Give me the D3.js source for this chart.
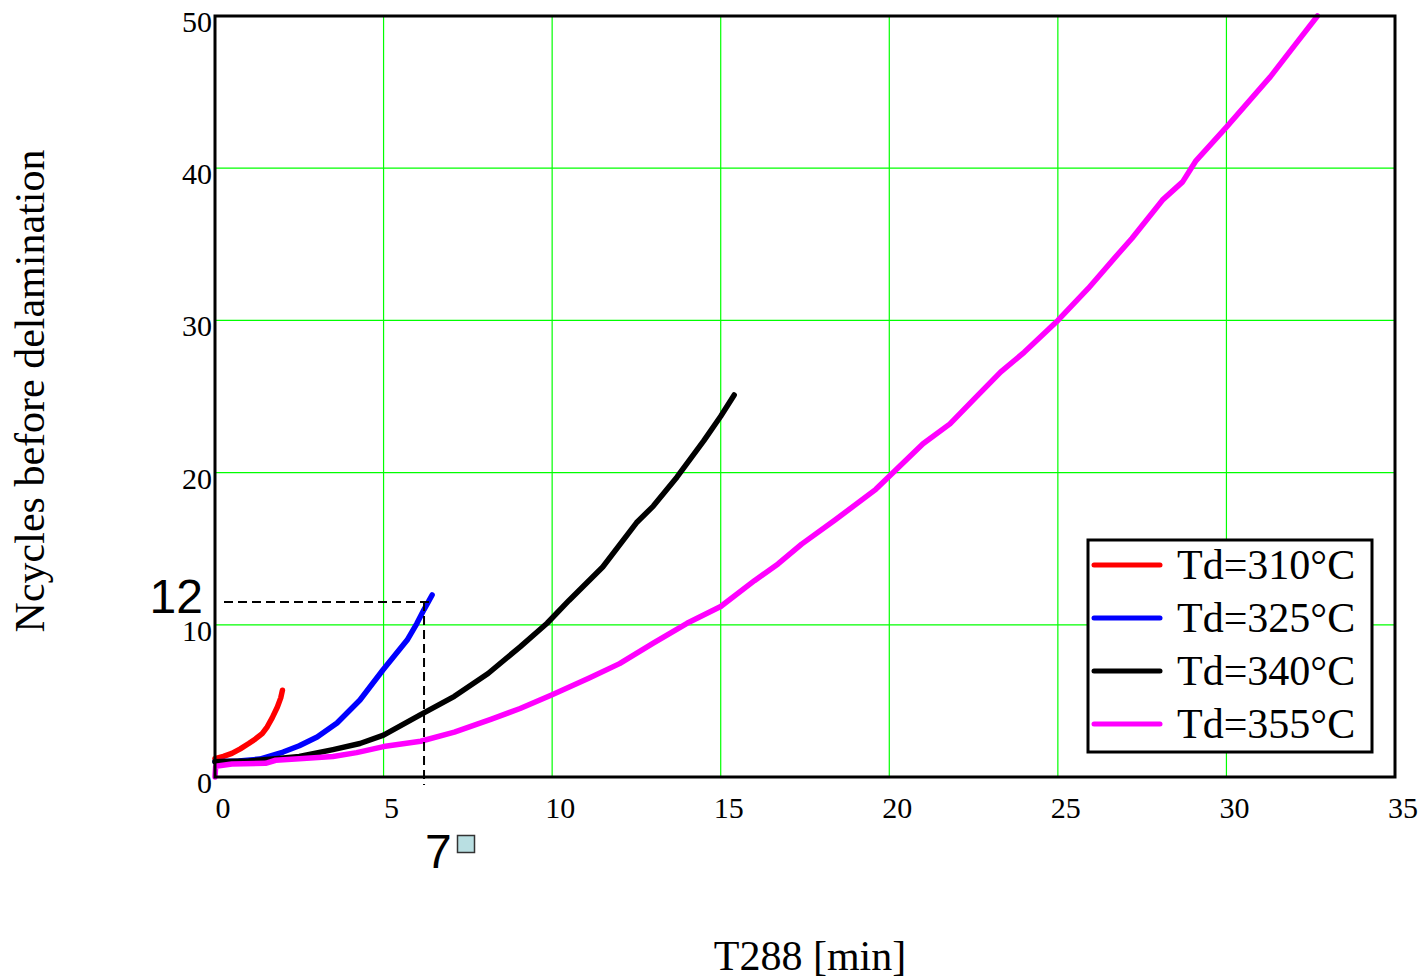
<!DOCTYPE html>
<html>
<head>
<meta charset="utf-8">
<script src="https://cdn.jsdelivr.net/npm/d3@7"></script>
<style>
  html, body { margin: 0; padding: 0; background: #fff; }
  svg { display: block; }
</style>
</head>
<body>
<svg id="chart" width="1420" height="980"></svg>
<script>
// ---- Data ----
const xTicks = [0, 5, 10, 15, 20, 25, 30, 35];
const yTicks = [0, 10, 20, 30, 40, 50];
const xGrid = [5, 10, 15, 20, 25, 30];
const yGrid = [10, 20, 30, 40];

const seriesNames = ["Td=310°C", "Td=325°C", "Td=340°C", "Td=355°C"];
const seriesColors = ["#ff0000", "#0000ff", "#000000", "#ff00ff"];

const td310 = [[0,1.2],[0.25,1.35],[0.5,1.55],[0.75,1.85],[1.0,2.2],[1.2,2.5],[1.4,2.85],[1.55,3.3],[1.7,3.9],[1.85,4.6],[1.95,5.2],[2.0,5.7]];
const td325 = [[0,1.0],[0.7,1.05],[1.33,1.18],[2.02,1.64],[2.5,2.05],[3.03,2.63],[3.62,3.55],[4.3,5.06],[4.98,7.03],[5.7,9.0],[5.99,10.1],[6.2,11.0],[6.44,11.96]];
const td340 = [[0,1.0],[1.0,1.05],[1.8,1.2],[2.5,1.35],[3.5,1.8],[4.3,2.2],[5.0,2.75],[6.1,4.1],[7.1,5.3],[8.1,6.8],[9.05,8.55],[9.85,10.1],[10.5,11.6],[11.5,13.8],[12.5,16.7],[13.0,17.8],[13.7,19.7],[14.5,22.1],[15.0,23.7],[15.4,25.1]];
const td355 = [[0,0],[0.02,0.7],[0.5,0.85],[1.5,0.9],[1.8,1.1],[2.5,1.2],[3.5,1.35],[4.2,1.6],[5.0,2.0],[6.1,2.35],[7.1,2.95],[8.2,3.8],[9.05,4.5],[10.0,5.4],[11.1,6.5],[12.0,7.45],[13.0,8.8],[14.0,10.1],[15.0,11.2],[16.0,12.9],[16.7,14.0],[17.4,15.3],[18.4,16.9],[19.6,18.9],[20.3,20.4],[21.0,21.9],[21.8,23.2],[22.5,24.8],[23.3,26.6],[24.0,27.9],[25.0,30.0],[25.9,32.1],[26.8,34.4],[27.2,35.4],[28.1,37.9],[28.7,39.1],[29.1,40.5],[30.0,42.7],[31.3,46.0],[32.0,48.0],[32.7,50.0]];
const seriesData = [td310, td325, td340, td355];

// Marker (Mathcad trace readout)
const markerX = 6.2;
const markerY = 11.5;
const markerXLabel = "7";
const markerYLabel = "12";

const xTitle = "T288 [min]";
const yTitle = "Ncycles before delamination";

// ---- Layout ----
const svg = d3.select("#chart");
const L = 215, R = 1395, T = 16, B = 777;
const x = d3.scaleLinear().domain([0, 35]).range([L, R]);
const y = d3.scaleLinear().domain([0, 50]).range([B, T]);
const serif = "'Liberation Serif', 'Times New Roman', serif";
const sans = "'Liberation Sans', Arial, sans-serif";

// Grid
svg.append("g").selectAll("line").data(xGrid).join("line")
  .attr("x1", d => x(d)).attr("x2", d => x(d))
  .attr("y1", T).attr("y2", B)
  .attr("stroke", "#00ff00").attr("stroke-width", 1.2);
svg.append("g").selectAll("line").data(yGrid).join("line")
  .attr("x1", L).attr("x2", R)
  .attr("y1", d => y(d)).attr("y2", d => y(d))
  .attr("stroke", "#00ff00").attr("stroke-width", 1.2);

// Tick labels
svg.append("g").selectAll("text").data(xTicks).join("text")
  .attr("x", d => x(d) + 8).attr("y", 818)
  .attr("text-anchor", "middle")
  .attr("font-family", serif).attr("font-size", 30)
  .text(d => d);
svg.append("g").selectAll("text").data(yTicks).join("text")
  .attr("x", 212).attr("y", d => y(d) + 16)
  .attr("text-anchor", "end")
  .attr("font-family", serif).attr("font-size", 30)
  .text(d => d);

// Curves
const line = d3.line().x(d => x(d[0])).y(d => y(d[1]));
const plot = svg.append("g");
seriesData.forEach((s, i) => {
  plot.append("path").datum(s)
    .attr("d", line)
    .attr("fill", "none")
    .attr("stroke", seriesColors[i])
    .attr("stroke-width", 5.5)
    .attr("stroke-linejoin", "round")
    .attr("stroke-linecap", "round");
});

// Marker dashed lines
svg.append("line")
  .attr("x1", x(0) + 9).attr("x2", x(markerX) + 6)
  .attr("y1", y(markerY)).attr("y2", y(markerY))
  .attr("stroke", "#000").attr("stroke-width", 2).attr("stroke-dasharray", "9,5");
svg.append("line")
  .attr("x1", x(markerX)).attr("x2", x(markerX))
  .attr("y1", y(markerY)).attr("y2", y(0) + 8)
  .attr("stroke", "#000").attr("stroke-width", 2).attr("stroke-dasharray", "9,5");

// Frame
svg.append("rect")
  .attr("x", L).attr("y", T).attr("width", R - L).attr("height", B - T)
  .attr("fill", "none").attr("stroke", "#000").attr("stroke-width", 3);

// Marker labels
svg.append("text")
  .attr("x", 203).attr("y", 613).attr("text-anchor", "end")
  .attr("font-family", sans).attr("font-size", 48)
  .text(markerYLabel);
svg.append("text")
  .attr("x", 425).attr("y", 868)
  .attr("font-family", sans).attr("font-size", 48)
  .text(markerXLabel);
svg.append("rect")
  .attr("x", 457.5).attr("y", 835.5).attr("width", 17).attr("height", 17)
  .attr("fill", "#b9dfe2").attr("stroke", "#333").attr("stroke-width", 1.5);

// Legend
const lg = svg.append("g");
lg.append("rect")
  .attr("x", 1088).attr("y", 540).attr("width", 284).attr("height", 212)
  .attr("fill", "#fff").attr("stroke", "#000").attr("stroke-width", 3);
const legendY = [565, 618, 671, 724];
seriesNames.forEach((n, i) => {
  lg.append("line")
    .attr("x1", 1094).attr("x2", 1160)
    .attr("y1", legendY[i]).attr("y2", legendY[i])
    .attr("stroke", seriesColors[i]).attr("stroke-width", 5)
    .attr("stroke-linecap", "round");
  lg.append("text")
    .attr("x", 1177).attr("y", legendY[i] + 14)
    .attr("font-family", serif).attr("font-size", 42)
    .text(n);
});

// Axis titles
svg.append("text")
  .attr("x", 810).attr("y", 970).attr("text-anchor", "middle")
  .attr("font-family", serif).attr("font-size", 42)
  .text(xTitle);
svg.append("text")
  .attr("transform", "translate(44,391) rotate(-90)")
  .attr("text-anchor", "middle")
  .attr("font-family", serif).attr("font-size", 42)
  .text(yTitle);
</script>
</body>
</html>
